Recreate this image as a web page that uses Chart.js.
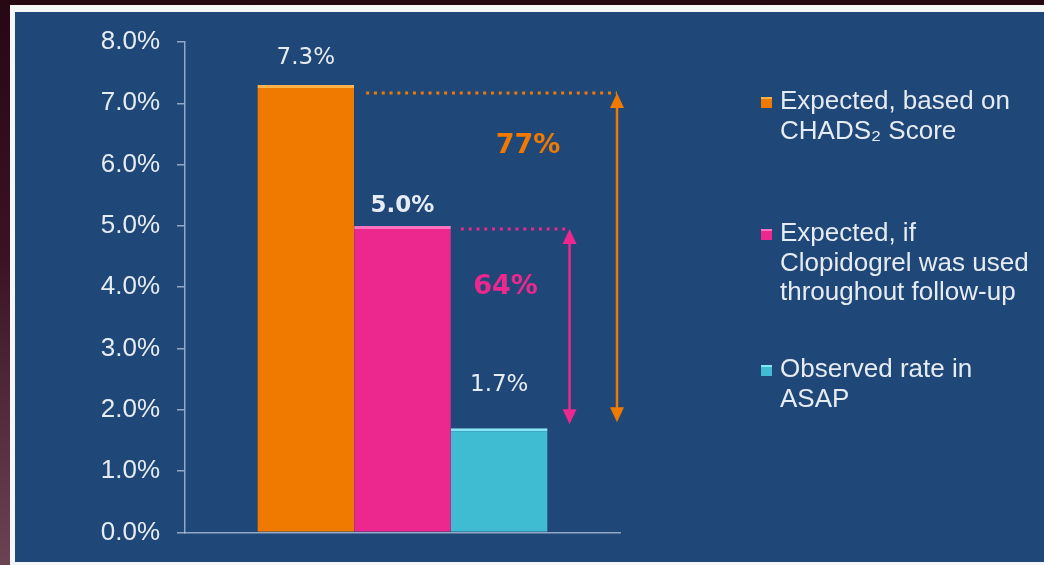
<!DOCTYPE html>
<html>
<head>
<meta charset="utf-8">
<script src="https://cdn.jsdelivr.net/npm/chart.js@4.4.1/dist/chart.umd.min.js"></script>
<style>
  html, body { margin: 0; padding: 0; }
  body {
    width: 1044px; height: 565px; overflow: hidden; position: relative;
    background: linear-gradient(180deg, #260812 0%, #3a1320 45%, #6b4452 100%);
  }
  .frame { position: absolute; left: 10px; top: 5px; width: 1040px; height: 560px; background: #f4f6f8; }
  .panel { position: absolute; left: 15px; top: 12px; width: 1029px; height: 550px; background: #1f4778; }
  #chart { position: absolute; left: 0; top: 0; }
</style>
</head>
<body>
<div class="frame"></div>
<div class="panel"></div>
<canvas id="chart" width="1044" height="565"></canvas>
<script>
// chart values
const categories = [''];
const seriesNames = [
    'Expected, based on CHADS₂ Score',
    'Expected, if Clopidogrel was used throughout follow-up',
    'Observed rate in ASAP'
];
const legendLines = [
    ['Expected, based on', 'CHADS₂ Score'],
    ['Expected, if', 'Clopidogrel was used', 'throughout follow-up'],
    ['Observed rate in', 'ASAP']
];
const seriesValues = [7.3, 5.0, 1.7];
const valueLabels = ['7.3%', '5.0%', '1.7%'];
const reductionLabels = ['77%', '64%'];
const yTickLabels = ['0.0%', '1.0%', '2.0%', '3.0%', '4.0%', '5.0%', '6.0%', '7.0%', '8.0%'];

const TEXT = '#e6ecf3';
const ORANGE = '#f07a00';
const PINK = '#ec288e';
const CYAN = '#3fbbd2';
const barFill = [ORANGE, PINK, CYAN];
const barTop = ['#ffb24a', '#ff72c2', '#86e6f6'];
const labelLift = [27, 20, 43];

const datasets = seriesValues.map((v, i) => ({
    label: seriesNames[i],
    data: [v],
    backgroundColor: barFill[i],
    borderColor: barTop[i],
    borderWidth: { top: 3, left: 0, right: 0, bottom: 0 },
    borderSkipped: false,
    valueText: valueLabels[i],
    valueLift: labelLift[i],
    legendText: legendLines[i]
}));

// value labels above the bars
const valueLabelPlugin = {
    id: 'valueLabels',
    afterDatasetsDraw(chart) {
        const ctx = chart.ctx;
        ctx.save();
        ctx.fillStyle = TEXT;
        ctx.textAlign = 'center';
        ctx.textBaseline = 'middle';
        chart.data.datasets.forEach((ds, i) => {
            const bar = chart.getDatasetMeta(i).data[0];
            ctx.font = (i === 1 ? 'bold ' : '') + '23px "DejaVu Sans"';
            ctx.fillText(ds.valueText, bar.x, bar.y - ds.valueLift);
        });
        ctx.restore();
    }
};

function arrowHead(ctx, x, y, dir) {
    ctx.beginPath();
    ctx.moveTo(x, y);
    ctx.lineTo(x - 7, y - dir * 15);
    ctx.lineTo(x + 7, y - dir * 15);
    ctx.closePath();
    ctx.fill();
}

function bracket(ctx, color, x0, x1, yTop, yBot) {
    ctx.save();
    ctx.strokeStyle = color;
    ctx.fillStyle = color;
    // dotted guide
    ctx.lineWidth = 3;
    ctx.setLineDash([3, 4.8]);
    ctx.beginPath();
    ctx.moveTo(x0, yTop);
    ctx.lineTo(x1, yTop);
    ctx.stroke();
    // double arrow
    ctx.setLineDash([]);
    ctx.lineWidth = 2.5;
    ctx.beginPath();
    ctx.moveTo(x1, yTop + 12);
    ctx.lineTo(x1, yBot - 12);
    ctx.stroke();
    arrowHead(ctx, x1, yTop, -1);
    arrowHead(ctx, x1, yBot, 1);
    ctx.restore();
}

// reduction arrows with percentages
const reductionPlugin = {
    id: 'reductions',
    afterDatasetsDraw(chart) {
        const ctx = chart.ctx;
        const y = chart.scales.y;
        const area = chart.chartArea;
        const bO = chart.getDatasetMeta(0).data[0];
        const bP = chart.getDatasetMeta(1).data[0];
        const bC = chart.getDatasetMeta(2).data[0];
        const bottom = y.getPixelForValue(seriesValues[2]) - 6;

        const xO = area.right - 3;
        bracket(ctx, ORANGE, bO.x + bO.width / 2 + 12, xO, bO.y + 8, bottom);
        const xP = bC.x + bC.width / 2 + 22;
        bracket(ctx, PINK, bP.x + bP.width / 2 + 10, xP, bP.y + 3, bottom + 2);

        ctx.save();
        ctx.textAlign = 'center';
        ctx.textBaseline = 'middle';
        ctx.font = 'bold 27px "DejaVu Sans"';
        ctx.fillStyle = ORANGE;
        ctx.fillText(reductionLabels[0], xO - 89, y.getPixelForValue(6.3));
        ctx.fillStyle = PINK;
        ctx.fillText(reductionLabels[1], xP - 64, y.getPixelForValue(4.0));
        ctx.restore();
    }
};

// legend on the right with wrapped lines
const sideLegendPlugin = {
    id: 'sideLegend',
    afterDraw(chart, args, opts) {
        const ctx = chart.ctx;
        ctx.save();
        ctx.font = '26px "Liberation Sans", Arial, sans-serif';
        ctx.textBaseline = 'middle';
        ctx.textAlign = 'left';
        chart.data.datasets.forEach((ds, i) => {
            const top = opts.rows[i];
            ctx.fillStyle = ds.backgroundColor;
            ctx.fillRect(opts.x, top - 5, 11, 11);
            ctx.fillStyle = ds.borderColor;
            ctx.fillRect(opts.x, top - 5, 11, 2);
            ctx.fillStyle = TEXT;
            ds.legendText.forEach((line, j) => {
                ctx.fillText(line, opts.x + 19, top + j * opts.lineHeight);
            });
        });
        ctx.restore();
    }
};

new Chart(document.getElementById('chart'), {
    type: 'bar',
    data: { labels: categories, datasets },
    options: {
        responsive: false,
        animation: false,
        layout: { padding: { left: 15, top: 42, right: 424, bottom: 20 } },
        categoryPercentage: 0.667,
        barPercentage: 1.0,
        plugins: {
            legend: { display: false },
            tooltip: { enabled: false },
            sideLegend: { x: 761, rows: [102, 234, 370], lineHeight: 29.5 }
        },
        scales: {
            x: {
                grid: { display: false },
                ticks: { display: false },
                border: { color: 'rgba(185,200,222,0.75)', width: 1.5 }
            },
            y: {
                min: 0,
                max: 8,
                afterFit(scale) { scale.width = 170; },
                ticks: {
                    stepSize: 1,
                    color: TEXT,
                    padding: 17,
                    font: { family: '"Liberation Sans", Arial, sans-serif', size: 26 },
                    callback: (v, i) => yTickLabels[i]
                },
                grid: {
                    drawOnChartArea: false,
                    tickLength: 8,
                    color: 'rgba(185,200,222,0.75)',
                    lineWidth: 1.5
                },
                border: { color: 'rgba(185,200,222,0.75)', width: 1.5 }
            }
        }
    },
    plugins: [valueLabelPlugin, reductionPlugin, sideLegendPlugin]
});
</script>
</body>
</html>
